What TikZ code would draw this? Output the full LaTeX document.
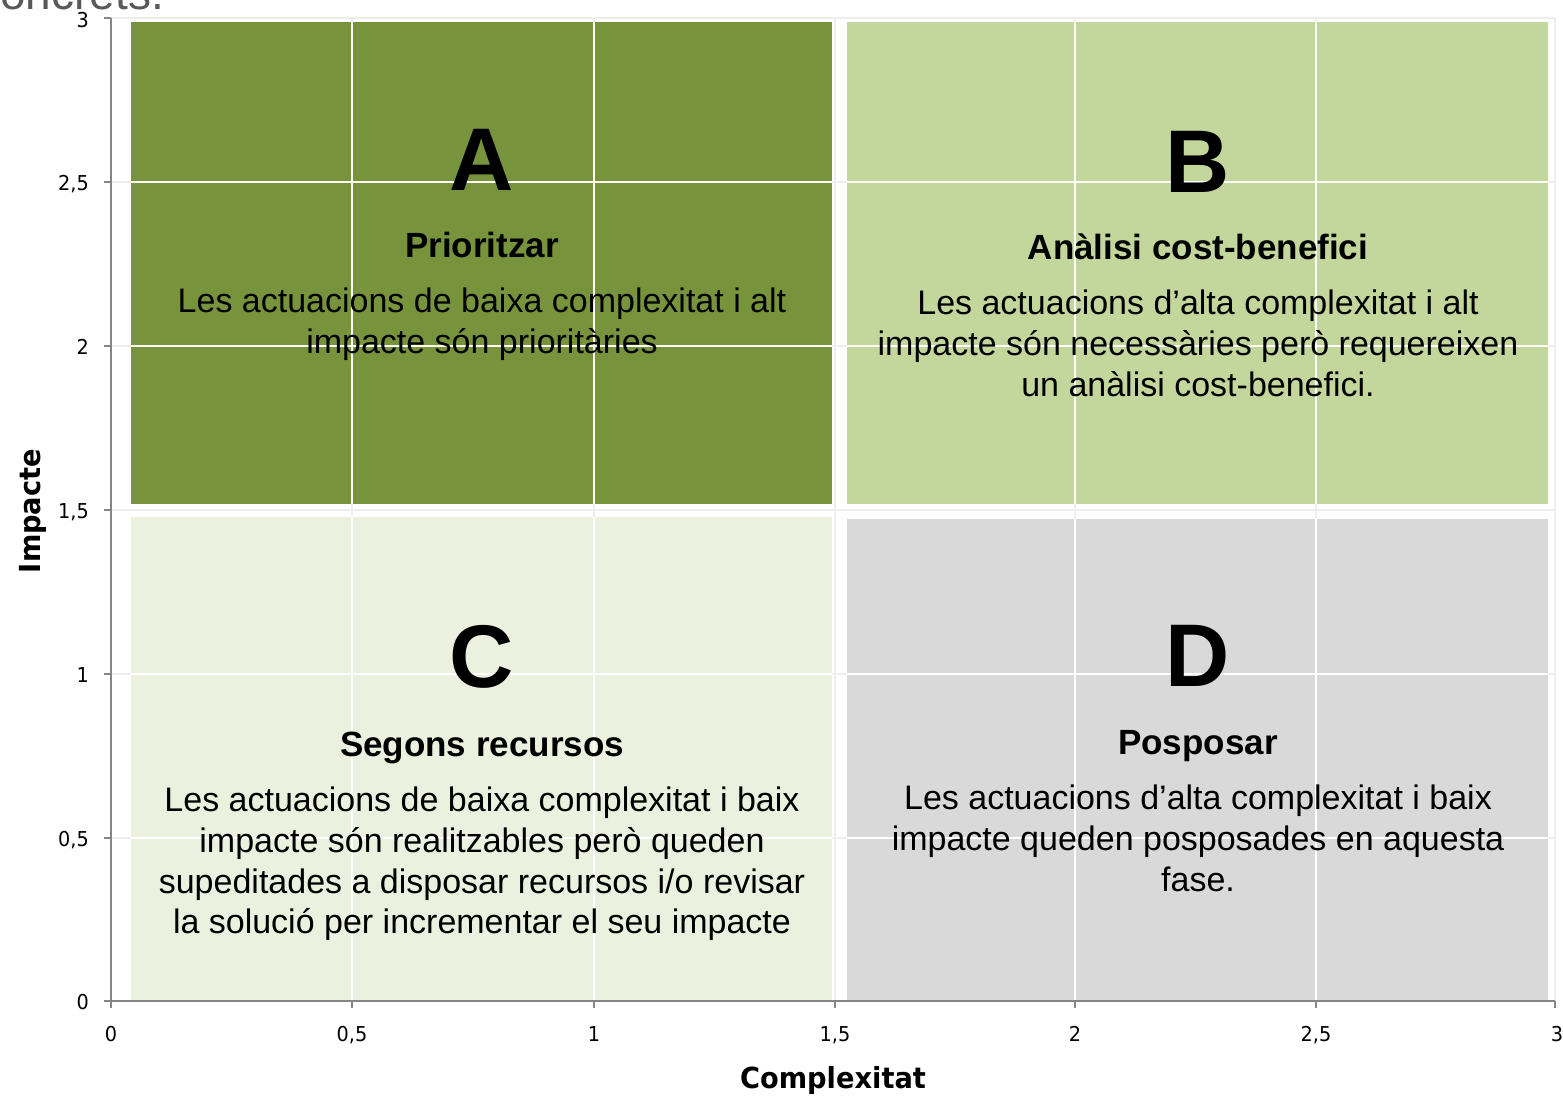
\documentclass[tikz,border=0pt]{standalone}
\usepackage{fontspec}
\setmainfont{Liberation Sans}
\newfontfamily\axfont[FakeStretch=0.94]{DejaVu Sans}
\definecolor{qAcol}{HTML}{77933C}
\definecolor{qBcol}{HTML}{C3D69B}
\definecolor{qCcol}{HTML}{EBF1DE}
\definecolor{qDcol}{HTML}{D9D9D9}
\definecolor{axiscol}{HTML}{868686}
\definecolor{gridcol}{HTML}{EEEEEE}
\definecolor{toptext}{HTML}{595959}
\tikzset{
  gridbg/.style={draw=gridcol, line width=1.5pt},
  gridfg/.style={draw=white, line width=1.6pt},
  axisline/.style={draw=axiscol, line width=2pt},
  ticklab/.style={font=\axfont\fontsize{20.5}{20.5}\selectfont, text=black, inner sep=0pt},
  axtitle/.style={font=\axfont\bfseries\fontsize{29}{29}\selectfont, text=black, inner sep=0pt, anchor=base},
  qletter/.style={font=\bfseries\fontsize{89}{89}\selectfont, inner sep=0pt, anchor=base},
  qtitle/.style={font=\bfseries\fontsize{35}{35}\selectfont, inner sep=0pt, anchor=base},
  qbody/.style={font=\fontsize{34}{34}\selectfont, inner sep=0pt, anchor=base},
}
\begin{document}
\begin{tikzpicture}[x=1pt,y=-1pt]
\useasboundingbox (0,0) rectangle (1563,1096);
% clipped text at top
\node[font=\fontsize{46}{46}\selectfont, text=toptext, anchor=base west, inner sep=0pt] (toptxt) at (-23,9) {concrets.};
% background gridlines
\foreach \gx in {352,594,835,1075,1316,1555} \draw[gridbg] (\gx,18) -- (\gx,1001);
\foreach \gy in {18,182,346,510,674,838} \draw[gridbg] (111,\gy) -- (1555,\gy);
% quadrants
\fill[qAcol] (131,22) rectangle (832,504);
\fill[qBcol] (847,22) rectangle (1548,504);
\fill[qCcol] (131,517) rectangle (832,1000);
\fill[qDcol] (847,519) rectangle (1548,1000);
% white gridlines over quadrants
\begin{scope}
\clip (131,22) rectangle (832,504) (847,22) rectangle (1548,504) (131,517) rectangle (832,1000) (847,519) rectangle (1548,1000);
\foreach \gx in {352,594,1075,1316} \draw[gridfg] (\gx,18) -- (\gx,1001);
\foreach \gy in {182,346,674,838} \draw[gridfg] (111,\gy) -- (1555,\gy);
\end{scope}
% axes
\draw[axisline] (111,18) -- (111,1001) -- (1555,1001);
\foreach \ty in {18,182,346,510,674,838,1001} \draw[axisline] (104,\ty) -- (111,\ty);
\foreach \tx in {111,352,594,835,1075,1316,1555} \draw[axisline] (\tx,1001) -- (\tx,1008);
% y tick labels
\node[ticklab, anchor=base east] (y30) at (89,27) {3};
\node[ticklab, anchor=base east] (y25) at (89,190) {2,5};
\node[ticklab, anchor=base east] (y20) at (89,354) {2};
\node[ticklab, anchor=base east] (y15) at (89,518) {1,5};
\node[ticklab, anchor=base east] (y10) at (89,682) {1};
\node[ticklab, anchor=base east] (y05) at (89,846) {0,5};
\node[ticklab, anchor=base east] (y00) at (89,1009) {0};
% x tick labels
\node[ticklab, anchor=base] (x00) at (111,1041) {0};
\node[ticklab, anchor=base] (x05) at (352,1041) {0,5};
\node[ticklab, anchor=base] (x10) at (594,1041) {1};
\node[ticklab, anchor=base] (x15) at (835,1041) {1,5};
\node[ticklab, anchor=base] (x20) at (1075,1041) {2};
\node[ticklab, anchor=base] (x25) at (1316,1041) {2,5};
\node[ticklab, anchor=base] (x30) at (1557,1041) {3};
% axis titles
\node[axtitle] (xtitle) at (833,1088) {Complexitat};
\node[axtitle, rotate=90] (ytitle) at (40,511) {Impacte};
% quadrant A
\node[qletter] (la) at (482,190) {A};
\node[qtitle] (ta) at (482,257) {Prioritzar};
\node[qbody] (ba1) at (482,312) {Les actuacions de baixa complexitat i alt};
\node[qbody] (ba2) at (482,353) {impacte són prioritàries};
% quadrant B
\node[qletter] (lb) at (1198,192) {B};
\node[qtitle] (tb) at (1198,259) {Anàlisi cost-benefici};
\node[qbody] (bb1) at (1198,314) {Les actuacions d’alta complexitat i alt};
\node[qbody] (bb2) at (1198,355) {impacte són necessàries però requereixen};
\node[qbody] (bb3) at (1198,396) {un anàlisi cost-benefici.};
% quadrant C
\node[qletter] (lc) at (482,687) {C};
\node[qtitle] (tc) at (482,756) {Segons recursos};
\node[qbody] (bc1) at (482,811) {Les actuacions de baixa complexitat i baix};
\node[qbody] (bc2) at (482,852) {impacte són realitzables però queden};
\node[qbody] (bc3) at (482,893) {supeditades a disposar recursos i/o revisar};
\node[qbody] (bc4) at (482,933) {la solució per incrementar el seu impacte};
% quadrant D
\node[qletter] (ld) at (1198,686) {D};
\node[qtitle] (td) at (1198,754) {Posposar};
\node[qbody] (bd1) at (1198,809) {Les actuacions d’alta complexitat i baix};
\node[qbody] (bd2) at (1198,850) {impacte queden posposades en aquesta};
\node[qbody] (bd3) at (1198,891) {fase.};
\end{tikzpicture}
\end{document}
